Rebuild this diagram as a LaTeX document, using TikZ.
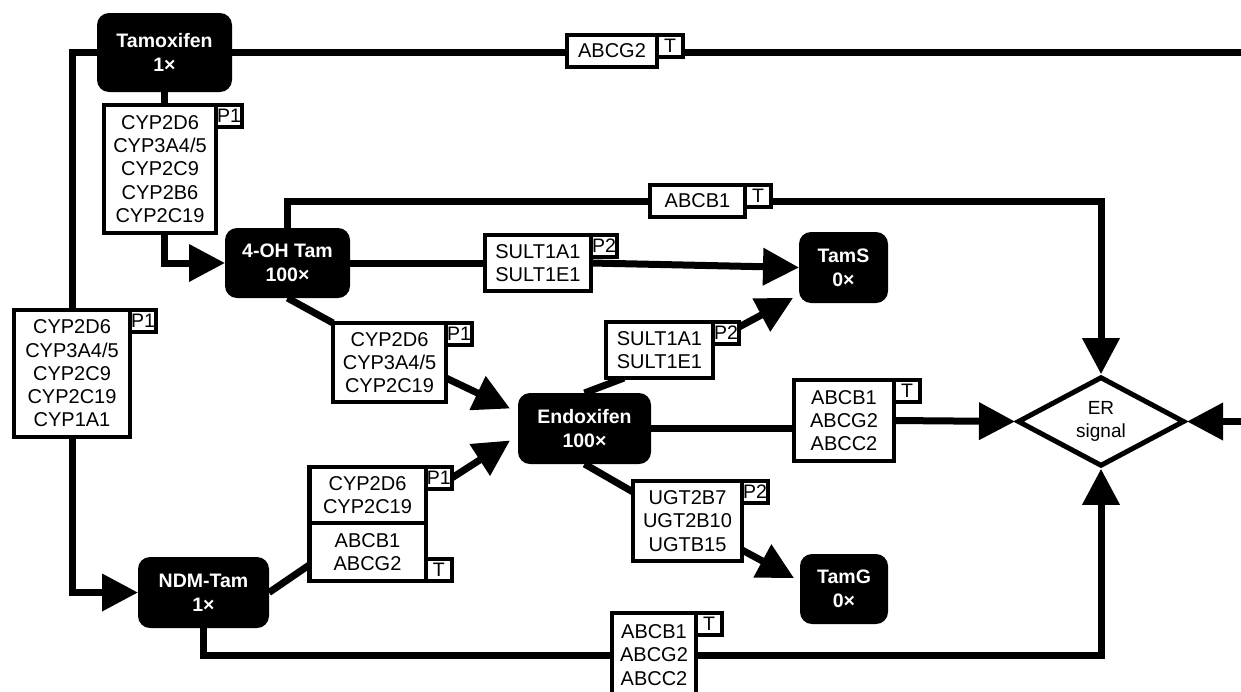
\documentclass[tikz,border=0pt]{standalone}
\usepackage{fontspec}
\setmainfont{Liberation Sans}
\usetikzlibrary{arrows.meta,shapes.geometric,calc}
\pgfdeclarelayer{bg}
\pgfsetlayers{bg,main}
\begin{document}
\begin{tikzpicture}[x=1pt,y=-1pt,
 lbl/.style={draw, line width=4.5pt, fill=white, inner sep=0pt, outer sep=0pt, align=center, font=\fontsize{20}{23.3}\selectfont},
 tagbox/.style={draw, line width=4pt, fill=white, inner sep=0pt, outer sep=0pt, minimum width=26pt, minimum height=22pt, font=\fontsize{19.5}{19.5}\selectfont},
 blk/.style={fill=black, text=white, rounded corners=12pt, inner sep=0pt, outer sep=0pt, align=center, font=\bfseries\fontsize{19.5}{24}\selectfont},
 con/.style={line width=7pt},
 arr/.style={con, -{Triangle[length=36pt,width=36pt]}},
]
\useasboundingbox (0,0) rectangle (1241,691);
\clip (0,0) rectangle (1241,691);
\coordinate (edgeR) at (1250,0);

% black nodes
\node[blk, minimum width=135pt, minimum height=79pt] (tam) at (164.5,52.5) {Tamoxifen\\1×};
\node[blk, minimum width=125pt, minimum height=70pt] (oh) at (287.5,263) {4-OH Tam\\100×};
\node[blk, minimum width=89pt, minimum height=71pt] (tams) at (843.5,267.5) {TamS\\0×};
\node[blk, minimum width=133pt, minimum height=71pt] (endox) at (584.5,428.5) {Endoxifen\\100×};
\node[blk, minimum width=131pt, minimum height=71pt] (ndm) at (203.5,592.5) {NDM-Tam\\1×};
\node[blk, minimum width=88pt, minimum height=70pt] (tamg) at (844,589) {TamG\\0×};
\node[draw, diamond, line width=5pt, fill=white, inner sep=0pt, minimum width=167pt, minimum height=84pt, align=center, font=\fontsize{19}{23}\selectfont] (er) at (1101,421.5) {ER\\signal};

% labels
\node[lbl, minimum width=112pt, minimum height=128pt] (cypA) at (160,169) {CYP2D6\\CYP3A4/5\\CYP2C9\\CYP2B6\\CYP2C19};
\node[tagbox, anchor=north west] (tA) at (cypA.north east) {P1};
\node[lbl, minimum width=116pt, minimum height=127pt] (cypB) at (72,373.5) {CYP2D6\\CYP3A4/5\\CYP2C9\\CYP2C19\\CYP1A1};
\node[tagbox, anchor=north west] (tB) at (cypB.north east) {P1};
\node[lbl, minimum width=113pt, minimum height=79pt] (cypC) at (389.5,362.5) {CYP2D6\\CYP3A4/5\\CYP2C19};
\node[tagbox, anchor=north west] (tC) at (cypC.north east) {P1};
\node[lbl, minimum width=116.5pt, minimum height=56pt] (cypDa) at (367.5,495) {CYP2D6\\CYP2C19};
\node[lbl, minimum width=116.5pt, minimum height=58pt, anchor=north] (cypDb) at (cypDa.south) {ABCB1\\ABCG2};
\node[tagbox, anchor=north west] (tD1) at (cypDa.north east) {P1};
\node[tagbox, anchor=south west] (tD2) at (cypDb.south east) {T};
\node[lbl, minimum width=90pt, minimum height=32pt] (abcg2) at (612,51) {ABCG2};
\node[tagbox, anchor=north west] (tG) at (abcg2.north east) {T};
\node[lbl, minimum width=95pt, minimum height=32pt] (abcb1) at (697.5,201) {ABCB1};
\node[tagbox, anchor=north west] (tB1) at (abcb1.north east) {T};
\node[lbl, minimum width=106pt, minimum height=56pt] (sultA) at (538,263) {SULT1A1\\SULT1E1};
\node[tagbox, anchor=north west] (tS1) at (sultA.north east) {P2};
\node[lbl, minimum width=107pt, minimum height=56pt] (sultB) at (659.5,350) {SULT1A1\\SULT1E1};
\node[tagbox, anchor=north west] (tS2) at (sultB.north east) {P2};
\node[lbl, minimum width=100pt, minimum height=81pt] (abcR) at (844,420.5) {ABCB1\\ABCG2\\ABCC2};
\node[tagbox, anchor=north west] (tR) at (abcR.north east) {T};
\node[lbl, minimum width=109pt, minimum height=80pt] (ugt) at (687.5,521) {UGT2B7\\UGT2B10\\UGTB15};
\node[tagbox, anchor=north west] (tU) at (ugt.north east) {P2};
\node[lbl, minimum width=84pt, minimum height=84pt] (abcBot) at (654,655) {ABCB1\\ABCG2\\ABCC2};
\node[tagbox, anchor=north west] (tBot) at (abcBot.north east) {T};

\begin{pgfonlayer}{bg}
\fill[white] (0,0) rectangle (1241,691);
\draw[con] (tam.east) -- (tam.east -| abcg2.west);
\draw[con] (tam.east -| tG.east) -- (tam.east -| edgeR);
\draw[con] (tam.west) -| (cypB.north);
\draw[arr] (cypB.south) |- (ndm.west);
\draw[con] (tam.south) -- (tam.south |- cypA.north);
\draw[arr] (tam.south |- cypA.south) |- (oh.west);
\draw[con] (oh.north) |- (abcb1.west);
\draw[arr] (abcb1.east -| tB1.east) -| (er.north);
\draw[con] (oh.east) -- (sultA.west);
\draw[arr] (sultA.east) -- (tams.west);
\draw[con] (oh.south) -- (cypC.north west);
\draw[arr] ($(cypC.south east)+(0,-24)$) -- ($(endox.west)+(-8,-20)$);
\draw[con] (ndm.east) -- ($(cypDb.south west)+(0,-16)$);
\draw[arr] (tD1.east) -- ($(endox.west)+(-8,12)$);
\draw[con] (endox.north) -- ($(sultB.south west)+(18,0)$);
\draw[arr] ($(tS2.east)+(0,-6)$) -- ($(tams.south west)+(-6,-5)$);
\draw[con] (endox.east) -- (endox.east -| abcR.west);
\draw[arr] (abcR.east) -- (er.west);
\draw[con] (endox.south) -- ($(ugt.north west)+(0,11)$);
\draw[arr] ($(ugt.south east)+(0,-11)$) -- ($(tamg.west)+(-6,-11)$);
\draw[con] (ndm.south) |- (abcBot.west);
\draw[arr] (abcBot.east) -| (er.south);
\draw[arr] (er.east -| edgeR) -- (er.east);
\end{pgfonlayer}
\end{tikzpicture}
\end{document}
